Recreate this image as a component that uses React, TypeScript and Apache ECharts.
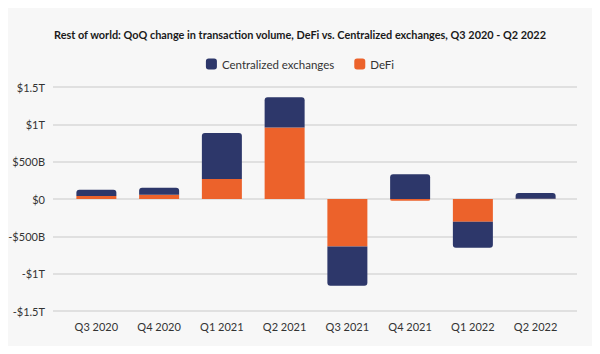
import React, { useEffect, useRef } from "react";
import * as echarts from "echarts";

const categories = ["Q3 2020", "Q4 2020", "Q1 2021", "Q2 2021", "Q3 2021", "Q4 2021", "Q1 2022", "Q2 2022"];
// values in billions of USD
const defiValues = [40, 58, 268, 956, -635, -25, -304, 2];
const cexValues = [85, 93, 617, 406, -527, 330, -349, 80];
const yTicks = [-1500, -1000, -500, 0, 500, 1000, 1500];

const NAVY = "#2D376A";
const ORANGE = "#EC622B";

function fmt(v: number): string {
  const sign = v < 0 ? "-" : "";
  const a = Math.abs(v);
  if (a === 0) return "$0";
  if (a >= 1000) return sign + "$" + a / 1000 + "T";
  return sign + "$" + a + "B";
}

function item(v: number, outer: boolean) {
  const r = outer ? 3 : 0;
  return {
    value: v,
    itemStyle: { borderRadius: v >= 0 ? [r, r, 0, 0] : [0, 0, r, r] },
  };
}

export default function App() {
  const ref = useRef<HTMLDivElement>(null);
  useEffect(() => {
    if (!ref.current) return;
    const chart = echarts.init(ref.current, null, { renderer: "svg" });
    const font = "Lato, 'Noto Sans', sans-serif";
    chart.setOption({
      animation: false,
      backgroundColor: "#F7F7F7",
      textStyle: { fontFamily: font },
      title: {
        text: "Rest of world: QoQ change in transaction volume, DeFi vs. Centralized exchanges, Q3 2020 - Q2 2022",
        left: "center",
        top: 24,
        textStyle: { fontSize: 10.9, fontWeight: "bold", color: "#1a1a1a", fontFamily: font },
      },
      legend: {
        data: ["Centralized exchanges", "DeFi"],
        top: 53,
        left: "center",
        icon: "roundRect",
        itemWidth: 11,
        itemHeight: 11,
        itemGap: 20,
        textStyle: { fontSize: 11.5, color: "#333", fontFamily: font },
      },
      grid: [
        { left: 53, right: 23, top: 87, bottom: 43 },
        { left: 65, right: 33, top: 87, bottom: 43 },
      ],
      xAxis: [
        { type: "category", gridIndex: 0, data: categories, show: false },
        {
          type: "category",
          gridIndex: 1,
          data: categories,
          axisLine: { show: false },
          axisTick: { show: false },
          axisLabel: { color: "#333", fontSize: 11, margin: 10, fontFamily: font },
        },
      ],
      yAxis: [
        {
          type: "value",
          gridIndex: 0,
          min: yTicks[0],
          max: yTicks[yTicks.length - 1],
          interval: 500,
          axisLine: { show: false },
          axisTick: { show: false },
          splitLine: { lineStyle: { color: "#D8D8D8", width: 1.5 } },
          axisLabel: { formatter: (v: number) => fmt(v), color: "#333", fontSize: 11, margin: 8, fontFamily: font },
        },
        {
          type: "value",
          gridIndex: 1,
          min: yTicks[0],
          max: yTicks[yTicks.length - 1],
          interval: 500,
          show: false,
          splitLine: { show: false },
        },
      ],
      series: [
        {
          name: "DeFi",
          type: "bar",
          stack: "total",
          xAxisIndex: 1,
          yAxisIndex: 1,
          barWidth: 40,
          itemStyle: { color: ORANGE },
          data: defiValues.map((v, i) => item(v, Math.sign(cexValues[i]) !== Math.sign(v))),
        },
        {
          name: "Centralized exchanges",
          type: "bar",
          stack: "total",
          xAxisIndex: 1,
          yAxisIndex: 1,
          barWidth: 40,
          itemStyle: { color: NAVY },
          data: cexValues.map((v) => item(v, true)),
        },
      ],
    });
    return () => chart.dispose();
  }, []);
  return <div ref={ref} style={{ width: 600, height: 354, margin: -8 }} />;
}
